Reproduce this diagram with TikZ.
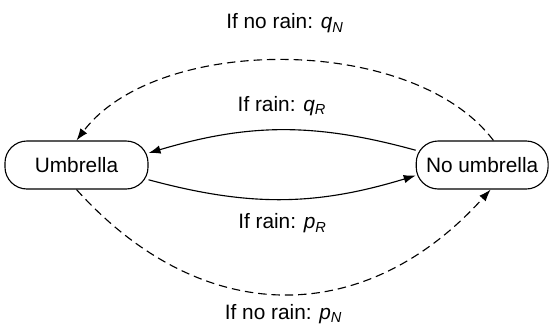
\documentclass[tikz,border=0pt]{standalone}
\usepackage{fontspec}
\setmainfont{Liberation Sans}
\usetikzlibrary{arrows.meta,positioning}

\begin{document}
\begin{tikzpicture}[
  x=0.025cm,y=0.025cm,
  font=\fontsize{14.8}{17}\selectfont,
  state/.style={draw,rounded corners=0.55cm,minimum height=1.2cm,inner xsep=7pt,line width=0.8pt},
  arr/.style={-{Latex[length=8.5pt,width=6pt]},line width=0.8pt},
  dashedarr/.style={arr,dash pattern=on 6pt off 3.5pt},
  lbl/.style={inner sep=0pt}
]
  \useasboundingbox (0,0) rectangle (551,332);
  \node[state, minimum width=3.575cm] (umb) at (76.5,167) {Umbrella};
  \node[state, right=6.675cm of umb] (nou) {No umbrella};

  \draw[arr] ([yshift=10.5pt]nou.west) to[bend right=16]
    node[lbl, midway, above=10pt] {If rain: \textit{q}\textsubscript{\textit{R}}} ([yshift=8.5pt]umb.east);
  \draw[arr] ([yshift=-10.5pt]umb.east) to[bend right=16]
    node[lbl, midway, below=10pt] {If rain: \textit{p}\textsubscript{\textit{R}}} ([yshift=-7.5pt]nou.west);
  \draw[dashedarr] ([xshift=8pt]nou.north) to[bend right=53, looseness=0.82]
    node[lbl, midway, above=19pt] {If no rain: \textit{q}\textsubscript{\textit{N}}} (umb.north);
  \draw[dashedarr] (umb.south) to[bend right=48, looseness=1.16]
    node[lbl, midway, below=7pt] {If no rain: \textit{p}\textsubscript{\textit{N}}} ([xshift=6pt]nou.south);
\end{tikzpicture}
\end{document}
